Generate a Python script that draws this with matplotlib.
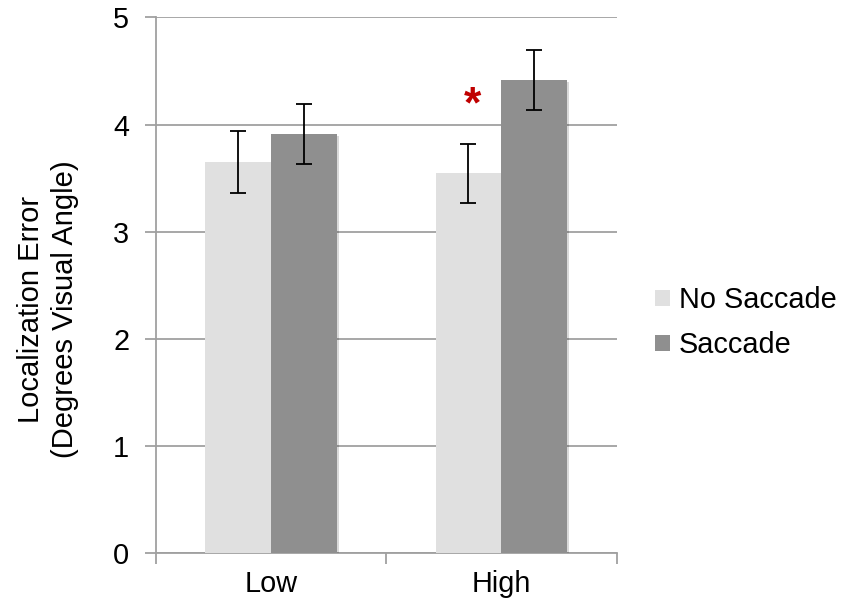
import matplotlib
matplotlib.use("Agg")
import matplotlib.pyplot as plt
import matplotlib.patheffects as pe
import numpy as np

plt.rcParams['font.family'] = ['Liberation Sans', 'DejaVu Sans']

categories = ["Low", "High"]
no_saccade = [3.65, 3.545]
no_saccade_err = [0.285, 0.277]
saccade = [3.91, 4.415]
saccade_err = [0.28, 0.278]
series_names = ["No Saccade", "Saccade"]
yticks = [0, 1, 2, 3, 4, 5]
sig_marker_y = 4.17

FS = 20.8

fig = plt.figure(figsize=(8.49, 6.08), dpi=100)
ax = fig.add_axes([0.1834, 0.0900, 0.543, 0.8815])

x = np.arange(len(categories))
w = 0.286
shadow = [pe.SimplePatchShadow(offset=(1.5, -1.5), shadow_rgbFace='k', alpha=0.15), pe.Normal()]
b1 = ax.bar(x - w/2, no_saccade, w, color='#E0E0E0', zorder=3, label=series_names[0])
b2 = ax.bar(x + w/2, saccade, w, color='#8F8F8F', zorder=3, label=series_names[1])
for b in list(b1) + list(b2):
    b.set_path_effects(shadow)
ax.errorbar(x - w/2, no_saccade, yerr=no_saccade_err, fmt='none', ecolor='black',
            elinewidth=1.3, capsize=6, capthick=1.3, zorder=4)
ax.errorbar(x + w/2, saccade, yerr=saccade_err, fmt='none', ecolor='black',
            elinewidth=1.3, capsize=6, capthick=1.3, zorder=4)

ax.text(1 - w/2 + 0.018, sig_marker_y, '*', color='#C00000', fontsize=32, fontweight='bold',
        ha='center', va='center', zorder=5)

ax.set_xlim(-0.5, 1.5)
ax.set_ylim(0, 5)
ax.set_yticks(yticks)
ax.set_xticks([-0.5, 0.5, 1.5], minor=False)
ax.set_xticklabels([])
ax.set_xticks(x, minor=True)
ax.set_xticklabels(categories, minor=True)
ax.tick_params(axis='x', which='minor', length=0, labelsize=FS, pad=12)
ax.tick_params(axis='x', which='major', length=8, width=1.3, color='#A0A0A0')
ax.tick_params(axis='y', length=8, width=1.3, color='#A0A0A0', labelsize=FS, pad=11)

ax.yaxis.grid(True, color='#A0A0A0', linewidth=1.3, zorder=0)
ax.set_axisbelow(True)
for s in ['top', 'right']:
    ax.spines[s].set_visible(False)
for s in ['left', 'bottom']:
    ax.spines[s].set_color('#A0A0A0')
    ax.spines[s].set_linewidth(1.3)

fig.text(48 / 849, 1 - 309 / 608, "Localization Error\n(Degrees Visual Angle)", fontsize=21,
         rotation=90, ha='center', va='center', multialignment='center', linespacing=1.27)

leg = ax.legend(loc='center left', bbox_to_anchor=(1.059, 0.43), frameon=False,
                fontsize=FS, handlelength=0.5, handleheight=0.5, handletextpad=0.3,
                labelspacing=0.6, borderaxespad=0)
for h in leg.legend_handles:
    h.set_path_effects([])

fig.savefig("out.png", dpi=100)
